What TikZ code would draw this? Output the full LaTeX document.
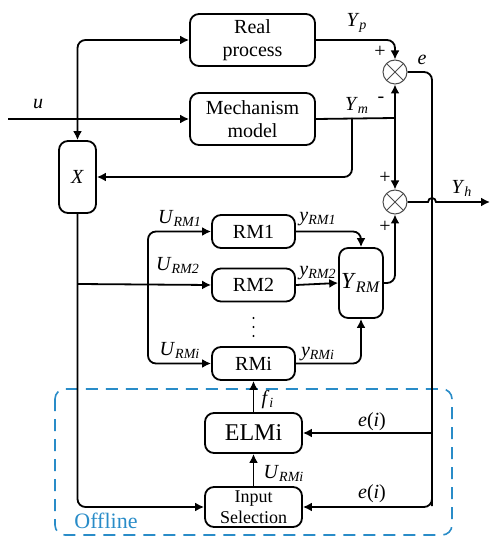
\documentclass[tikz,border=0pt]{standalone}
\usepackage{fontspec}
\setmainfont{Liberation Serif}
\usetikzlibrary{positioning, arrows.meta, calc}
\definecolor{offblue}{RGB}{41,140,200}
\newcommand{\sig}[2]{\textit{#1}\textsubscript{\textit{#2}}}

\begin{document}
\begin{tikzpicture}[
  x=0.5pt, y=-0.5pt,
  line width=0.9pt,
  sigarrow/.style={-{Latex[length=4.5pt,width=4.5pt]}, rounded corners=4pt},
  sigplain/.style={-{Latex[length=4.5pt,width=4.5pt]}},
  sigboth/.style={{Latex[length=4.5pt,width=4.5pt]}-{Latex[length=4.5pt,width=4.5pt]}, rounded corners=4pt},
  blockbox/.style={rectangle, rounded corners=4.5pt, draw=black, line width=0.9pt,
                   align=center, inner sep=1pt, font=\fontsize{10}{11.5}\selectfont},
  sumnode/.style={circle, draw=gray!60!black, line width=0.5pt, minimum size=12pt, inner sep=0pt,
                  path picture={\draw[gray!60!black, line width=0.5pt]
                    (path picture bounding box.north west) -- (path picture bounding box.south east)
                    (path picture bounding box.north east) -- (path picture bounding box.south west);}},
  lbl/.style={inner sep=0pt, font=\fontsize{10}{12}\selectfont}
]
\useasboundingbox (0,0) rectangle (498,550);

% -------- OFFLINE FRAME --------
\draw[offblue, line width=0.8pt, dash pattern=on 6pt off 4pt, rounded corners=5pt]
  (55,389) rectangle (452,535);
\node[lbl, text=offblue, font=\fontsize{11}{12}\selectfont] (offline) at (106,521) {Offline};

% -------- BLOCKS --------
\node[blockbox, minimum width=62.5pt, minimum height=26pt] (real) at (252.5,40) {Real\\process};
\node[blockbox, minimum width=62.5pt, minimum height=26pt] (mech) at (252.5,119) {Mechanism\\model};
\node[blockbox, minimum width=18.5pt, minimum height=36pt] (X) at (77.5,177) {\textit{X}};
\node[sumnode] (sum1) at (395,72) {};
\node[sumnode] (sum2) at (395,202) {};
\node[blockbox, minimum width=41.5pt, minimum height=16.5pt] (rm1) at (253.5,231.5) {RM1};
\node[blockbox, minimum width=41.5pt, minimum height=16.5pt] (rm2) at (253.5,285) {RM2};
\node[blockbox, minimum width=41.5pt, minimum height=16.5pt] (rmi) at (253.5,363.5) {RMi};
\node[blockbox, minimum width=18pt, minimum height=35pt, font=\fontsize{11.5}{12}\selectfont] (yrm) at (361,283) {\sig{Y}{RM}};
\node[blockbox, minimum width=48.5pt, minimum height=20pt, font=\fontsize{12}{13}\selectfont] (elm) at (253.5,433) {ELMi};
\node[blockbox, minimum width=48.5pt, minimum height=20pt, font=\fontsize{9}{10.5}\selectfont] (sel) at (253.5,507) {Input\\Selection};

% vertical dots between RM2 and RMi
\foreach \dy in {318,327,336}
  \fill (253.5,\dy) circle (0.55pt);

% -------- COORDINATES --------
\coordinate (uin) at (8,119);
\coordinate (jm) at (395,118);
\coordinate (jx) at (352,118);
\coordinate (je) at (432,433);
\coordinate (jrm) at (78,284);
\coordinate (jsplit) at (148,284);
\coordinate (yhout) at (490,202);

% -------- CONNECTORS --------
\draw[sigarrow] (uin) -- (mech.west);
\draw[sigboth] (X.north) |- (real.west);
\draw[sigarrow] (real.east) -| (sum1.north);
\draw (mech.east) -- (jm);
\draw[sigarrow] (jm) -- (sum1.south);
\draw[sigarrow] (jm) -- (sum2.north);
\draw[sigarrow] (jx) |- (X.east);
\draw[sigarrow] (sum1.east) -| ($(je)+(0,65)$) |- (sel.east);
\draw[sigarrow] (je) -- (elm.east);
\draw[sigplain] (sum2.east) -- (428,202) arc[start angle=180, end angle=0, radius=2pt] -- (yhout);
\draw[sigarrow] (yrm.east) -| (sum2.south);
\draw[sigarrow] (rm1.east) -| (yrm.north);
\draw[sigarrow] (rm2.east) -- (yrm.west);
\draw[sigarrow] (rmi.east) -| (yrm.south);
\draw[sigarrow] (X.south) |- (sel.west);
\draw[sigarrow] (jrm) -- (rm2.west);
\draw[sigarrow] (jsplit) |- (rm1.west);
\draw[sigarrow] (jsplit) |- (rmi.west);
\draw[sigarrow] (elm.north) -- (rmi.south);
\draw[sigarrow] (sel.north) -- (elm.south);

% -------- LABELS --------
\node[lbl] (lu) at (38,104) {\textit{u}};
\node[lbl] (lyp) at (357,23) {\sig{Y}{p}};
\node[lbl] (lym) at (357,105) {\sig{Y}{m}};
\node[lbl] (lp1) at (380,52) {+};
\node[lbl] (lm1) at (381,100) {-};
\node[lbl] (le) at (422,60) {\textit{e}};
\node[lbl] (lp2) at (385,178) {+};
\node[lbl] (lp3) at (385,227) {+};
\node[lbl] (lyh) at (462,188) {\sig{Y}{h}};
\node[lbl] (lu1) at (180,218) {\sig{U}{RM1}};
\node[lbl] (lu2) at (178,265) {\sig{U}{RM2}};
\node[lbl] (lui) at (180,350) {\sig{U}{RMi}};
\node[lbl] (ly1) at (318,219) {\sig{y}{RM1}};
\node[lbl] (ly2) at (318,273) {\sig{y}{RM2}};
\node[lbl] (lyi) at (318,354) {\sig{y}{RMi}};
\node[lbl] (lf) at (268,400) {\sig{f}{i}};
\node[lbl] (lus) at (284,473) {\sig{U}{RMi}};
\node[lbl] (lei1) at (372,422) {\textit{e}(\textit{i})};
\node[lbl] (lei2) at (372,494) {\textit{e}(\textit{i})};
\end{tikzpicture}
\end{document}
